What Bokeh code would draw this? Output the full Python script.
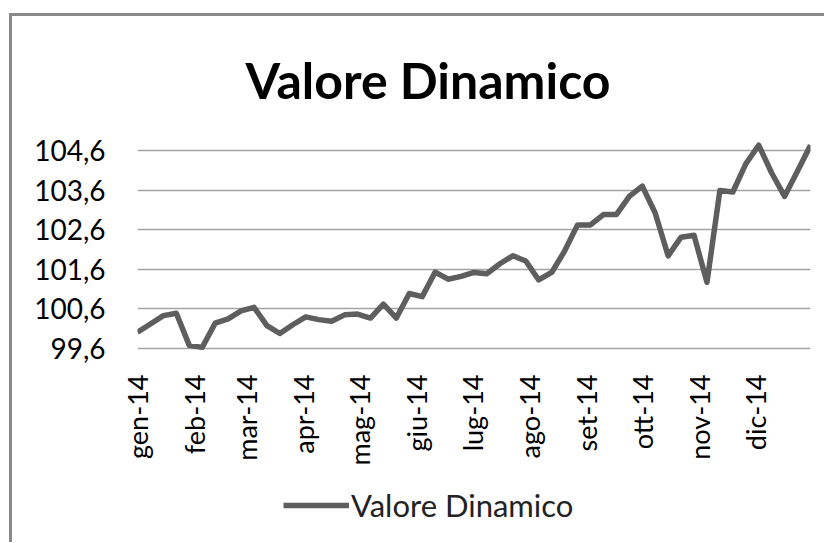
import math
import pandas as pd
from bokeh.plotting import figure
from bokeh.layouts import column
from bokeh.models import Range1d, FixedTicker, CustomJSTickFormatter, Legend, LegendItem
from bokeh.embed import file_html
from bokeh.resources import INLINE

# ---- data ----
title_text = "Valore Dinamico"
series_name = "Valore Dinamico"
start_date = "2014-01-01"
values = [100.01, 100.22, 100.43, 100.49, 99.68, 99.63, 100.24, 100.35, 100.55, 100.64,
          100.18, 99.98, 100.20, 100.40, 100.33, 100.29, 100.45, 100.47, 100.37, 100.72,
          100.37, 100.99, 100.91, 101.53, 101.35, 101.42, 101.52, 101.49, 101.74, 101.94,
          101.81, 101.33, 101.52, 102.06, 102.72, 102.72, 102.98, 102.98, 103.44, 103.70,
          103.02, 101.94, 102.41, 102.46, 101.27, 103.59, 103.55, 104.26, 104.73, 104.03,
          103.44, 104.08, 104.73]
month_labels = ["gen-14", "feb-14", "mar-14", "apr-14", "mag-14", "giu-14",
                "lug-14", "ago-14", "set-14", "ott-14", "nov-14", "dic-14"]
y_ticks = [99.6, 100.6, 101.6, 102.6, 103.6, 104.6]

dates = pd.date_range(start_date, periods=len(values), freq="7D")
x_days = [int((d - dates[0]).days) for d in dates]
month_starts = pd.date_range(start_date, periods=len(month_labels), freq="MS")
month_days = [int((d - dates[0]).days) for d in month_starts]

FONT = "Lato"
LINE_COLOR = "#5e5e5e"

# ---- main chart ----
p = figure(width=812, height=456, output_backend="svg", toolbar_location=None,
           x_range=Range1d(x_days[0], x_days[-1]), y_range=Range1d(99.5, 104.85),
           min_border_left=125, min_border_right=14, min_border_top=123, min_border_bottom=120,
           title=title_text)
p.outline_line_color = None
p.background_fill_color = "white"
p.border_fill_color = "white"

p.title.align = "left"
p.title.offset = 108
p.title.standoff = 62
p.title.text_font = FONT
p.title.text_font_size = "50px"
p.title.text_font_style = "bold"
p.title.text_color = "black"

r = p.line(x_days, values, line_color=LINE_COLOR, line_width=5.5, line_join="round")

p.xaxis.ticker = FixedTicker(ticks=month_days)
p.xaxis.major_label_overrides = {d: lab for d, lab in zip(month_days, month_labels)}
p.xaxis.major_label_orientation = math.pi / 2
p.xaxis.major_label_standoff = 16
p.xaxis.major_label_text_font = FONT
p.xaxis.major_label_text_font_size = "27px"
p.xaxis.major_label_text_color = "black"
p.xaxis.axis_line_color = None
p.xaxis.major_tick_line_color = None
p.xaxis.minor_tick_line_color = None

p.yaxis.ticker = FixedTicker(ticks=y_ticks)
p.yaxis.formatter = CustomJSTickFormatter(code="return tick.toFixed(1).replace('.', ',');")
p.yaxis.major_label_standoff = 26
p.yaxis.major_label_text_font = FONT
p.yaxis.major_label_text_font_size = "28px"
p.yaxis.major_label_text_color = "black"
p.yaxis.axis_line_color = None
p.yaxis.major_tick_line_color = None
p.yaxis.minor_tick_line_color = None

p.xgrid.grid_line_color = None
p.ygrid.grid_line_color = "#a3a3a3"
p.ygrid.grid_line_width = 1.5

# ---- legend strip (same series; its line lies outside this strip's range) ----
p2 = figure(width=812, height=70, output_backend="svg", toolbar_location=None,
            x_range=Range1d(x_days[0], x_days[-1]), y_range=Range1d(0, 1),
            x_axis_location=None, y_axis_location=None,
            min_border_left=0, min_border_right=0, min_border_top=0, min_border_bottom=0)
p2.outline_line_color = None
p2.background_fill_color = "white"
p2.border_fill_color = "white"
p2.xgrid.visible = False
p2.ygrid.visible = False
r2 = p2.line(x_days, values, line_color=LINE_COLOR, line_width=5.5, line_join="round")

legend = Legend(items=[LegendItem(label=series_name, renderers=[r2])],
                location=(146, 18), orientation="horizontal",
                glyph_width=66, glyph_height=20, label_standoff=2,
                border_line_color=None, background_fill_alpha=0,
                label_text_font=FONT, label_text_font_size="31px", label_text_color="#222222",
                padding=4, margin=0)
p2.add_layout(legend, "center")

layout = column(p, p2, spacing=0)
layout.styles = {"border-left": "3px solid #898989", "border-top": "3px solid #898989",
                 "margin-left": "9px", "margin-top": "13px"}

open("out.html", "w").write(file_html(layout, INLINE))
